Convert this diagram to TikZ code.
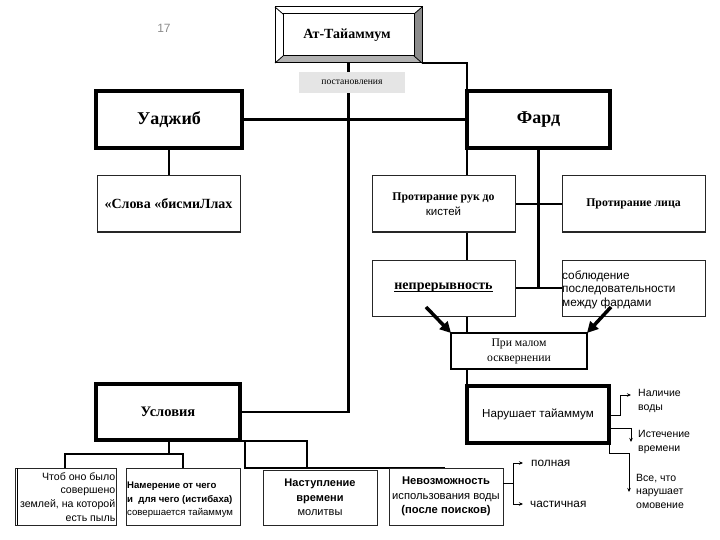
\documentclass[tikz,border=0pt]{standalone}
\usepackage{fontspec}
\setmainfont{Liberation Serif}
\setsansfont{Liberation Sans}
\usetikzlibrary{arrows.meta}
\newsavebox{\ulbox}
\newcommand{\myul}[1]{\sbox{\ulbox}{#1}\rlap{\rule[-1.6pt]{\wd\ulbox}{0.9pt}}\usebox{\ulbox}}
\tikzset{
  box/.style={draw=black!85, fill=white, inner sep=0pt, outer sep=0pt, anchor=north west, align=center, line width=1pt},
  heavy/.style={box, draw=black, line width=4pt},
  conn/.style={line width=2.5pt},
  thinconn/.style={line width=1pt},
  bigarrow/.style={line width=3.5pt, -{Triangle[length=11pt,width=11pt]}},
  smallarrow/.style={line width=0.8pt, -{Stealth[length=4pt,width=3.5pt]}},
  lbl/.style={font=\sffamily\fontsize{9}{11}\selectfont, align=left, anchor=west, inner sep=0pt},
}
\begin{document}
\begin{tikzpicture}[x=1pt,y=-1pt]
\useasboundingbox (0,0) rectangle (720,540);
% page number
\node[text=black!45, font=\sffamily\fontsize{12}{14}\selectfont] (pg) at (164,28) {17};
% top bevel box geometry
\coordinate (tnw) at (275,7); \coordinate (tne) at (422,7);
\coordinate (tse) at (422,63); \coordinate (tsw) at (275,63);
\coordinate (inw) at (283,14); \coordinate (ine) at (414,14);
\coordinate (ise) at (414,56); \coordinate (isw) at (283,56);
% connectors first
\draw[conn, line width=2pt] (tse) -| (467,386);
\draw[conn] (348.5,63) |- (240,412);
\draw[conn] (242,119.5) -- (467,119.5);
\draw[conn] (169,148) -- (169,176);
\draw[conn] (538.5,148) -- (538.5,288);
\draw[conn] (515,204) -- (562,204);
\draw[conn] (515,288) -- (562,288);
\draw[conn] (169,440) -- (169,454);
\draw[conn] (65,468) -- (65,454) -- (183,454) -- (183,468);
\draw[conn] (240,441) -- (307,441) -- (307,468);
\draw[conn] (245,441) -- (245,468) -- (445,468);
% bevel box
\fill[white] (tnw) -- (tne) -- (ine) -- (inw) -- cycle;
\fill[white] (tnw) -- (inw) -- (isw) -- (tsw) -- cycle;
\fill[black!45] (tne) -- (tse) -- (ise) -- (ine) -- cycle;
\fill[black!30] (tsw) -- (tse) -- (ise) -- (isw) -- cycle;
\draw[line width=1pt] (tnw) rectangle (tse);
\draw[line width=1pt] (inw) rectangle (ise);
\draw[line width=0.8pt] (tnw) -- (inw) (tne) -- (ine) (tse) -- (ise) (tsw) -- (isw);
\node[font=\bfseries\fontsize{14}{16}\selectfont, inner sep=0pt] (top) at (347,35) {Ат-Тайаммум};
% label
\node[box, draw=none, fill=black!10, minimum width=106pt, minimum height=21pt, font=\fontsize{9.6}{11}\selectfont] (post) at (299,72) {постановления};
% main boxes
\node[heavy, minimum width=146pt, minimum height=57pt, font=\bfseries\fontsize{18}{20}\selectfont] (wadj) at (96,91) {Уаджиб};
\node[heavy, minimum width=143pt, minimum height=57pt, font=\bfseries\fontsize{18}{20}\selectfont] (fard) at (467,91) {Фард};
\node[box, minimum width=143pt, minimum height=56pt, font=\bfseries\fontsize{14}{16}\selectfont] (slova) at (97,176) {«Слова «бисмиЛлах};
\node[box, minimum width=143pt, minimum height=56pt, font=\fontsize{11.8}{15}\selectfont] (ruk) at (372,176) {\textbf{Протирание рук до}\\\sffamily\fontsize{11.5}{15}\selectfont кистей};
\node[box, minimum width=143pt, minimum height=56pt, font=\bfseries\fontsize{11.8}{14}\selectfont] (lica) at (562,176) {Протирание лица};
\node[box, minimum width=143pt, minimum height=56pt, font=\bfseries\fontsize{14}{16}\selectfont] (nepr) at (372,260) {\myul{непрерывность}};
\node[box, minimum width=143pt, minimum height=56pt] (sobl) at (562,260) {};
\node[lbl, font=\sffamily\fontsize{11.8}{13.5}\selectfont] (soblt) at (562,289.5) {соблюдение\\последовательности\\между фардами};
\node[box, draw=black, line width=2pt, minimum width=136pt, minimum height=36pt, font=\fontsize{11.7}{15}\selectfont] (pri) at (451,333) {При малом\\осквернении};
\node[heavy, minimum width=142pt, minimum height=57pt, font=\sffamily\fontsize{11.6}{13}\selectfont] (nar) at (467,386) {Нарушает тайаммум};
\node[heavy, minimum width=144pt, minimum height=56pt, font=\bfseries\fontsize{14.5}{16}\selectfont] (usl) at (96,384) {Условия};
% bottom row
\node[box, minimum width=101pt, minimum height=57pt] (chto) at (15,468) {};
\draw[line width=1pt] (17,468) -- (17,525);
\node[inner sep=0pt, anchor=east, align=right, font=\sffamily\fontsize{10.6}{13.7}\selectfont] (chtot) at (115.5,497) {Чтоб оно было\\совершено\\землей, на которой\\есть пыль};
\node[box, minimum width=114pt, minimum height=57pt] (nam) at (126,468) {};
\node[inner sep=0pt, anchor=west, align=left, font=\sffamily\fontsize{9.6}{13.5}\selectfont] (namt) at (127,500) {\textbf{Намерение от чего}\\\textbf{и\ \ для чего (истибаха)}\\совершается тайаммум};
\node[box, minimum width=114pt, minimum height=55pt, font=\sffamily\fontsize{11}{14.5}\selectfont] (nast) at (263,470) {\textbf{Наступление}\\\textbf{времени}\\молитвы};
\node[box, minimum width=114pt, minimum height=57pt, font=\sffamily\fontsize{11.2}{14.5}\selectfont] (nevoz) at (389,468) {\textbf{Невозможность}\\использования воды\\\textbf{(после поисков)}};
% big arrows
\coordinate (a1) at (426,307);
\coordinate (a2) at (611,307);
\draw[bigarrow] (a1) -- (pri.north west);
\draw[bigarrow] (a2) -- (pri.north east);
% branches of Невозможность
\coordinate (p1) at (523,463); \coordinate (p2) at (523,504);
\draw[thinconn] (503,483) -- (513,483);
\draw[smallarrow] (513,483) |- (p1);
\draw[smallarrow] (513,483) |- (p2);
\node[lbl, font=\sffamily\fontsize{11.8}{13}\selectfont] (poln) at (531,463) {полная};
\node[lbl, font=\sffamily\fontsize{11.8}{13}\selectfont] (chast) at (530,504) {частичная};
% branches of Нарушает
\coordinate (b1) at (631,395); \coordinate (b2) at (631,442); \coordinate (b3) at (629,492);
\draw[smallarrow] (611,415) -- (620,415) |- (b1);
\draw[smallarrow] (611,428) -| (b2);
\draw[smallarrow] (609,443) -- (609,453) -| (b3);
\node[lbl, font=\sffamily\fontsize{10.5}{14}\selectfont] (nal) at (638,401) {Наличие\\воды};
\node[lbl, font=\sffamily\fontsize{10.5}{14}\selectfont] (ist) at (638,442) {Истечение\\времени};
\node[lbl, font=\sffamily\fontsize{10.5}{13.5}\selectfont] (vse) at (636,491) {Все, что\\нарушает\\омовение};
\end{tikzpicture}
\end{document}
